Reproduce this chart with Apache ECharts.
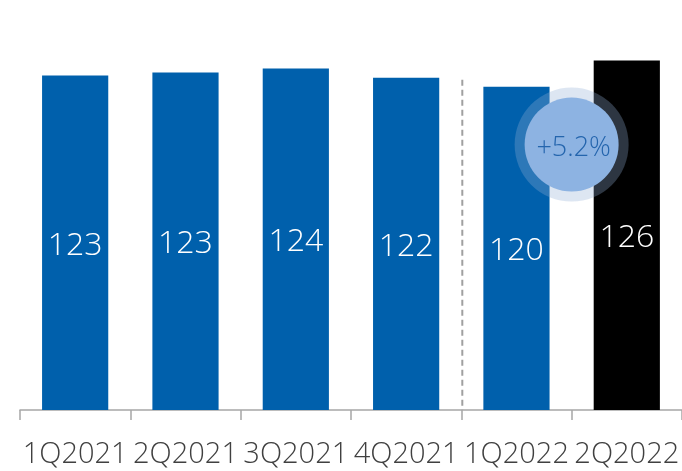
<!DOCTYPE html>
<html>
<head>
<meta charset="utf-8">
<script src="https://cdn.jsdelivr.net/npm/echarts@6/dist/echarts.min.js"></script>
<style>html,body{margin:0;padding:0;background:#fff;}#c{width:682px;height:471px;}</style>
</head>
<body>
<div id="c"></div>
<script>
const categories = ['1Q2021', '2Q2021', '3Q2021', '4Q2021', '1Q2022', '2Q2022'];
const values = [122.5, 123.2, 124.1, 122.0, 119.9, 126.0];
const valueLabels = ['123', '123', '124', '122', '120', '126'];
const barColors = ['#0060ac', '#0060ac', '#0060ac', '#0060ac', '#0060ac', '#000000'];
const changeLabel = '+5.2%';

const FONT = '"Open Sans"';
const chart = echarts.init(document.getElementById('c'), null, {renderer: 'canvas'});
chart.setOption({
  animation: false,
  backgroundColor: '#ffffff',
  grid: {left: 20, width: 665, top: 0, bottom: 61},
  xAxis: {
    type: 'category',
    data: categories,
    axisLine: {lineStyle: {color: '#a6a6a6', width: 1.5}},
    axisTick: {show: true, interval: 0, length: 10, lineStyle: {color: '#a6a6a6', width: 1.5}},
    axisLabel: {interval: 0, color: '#404040', fontSize: 29, fontFamily: FONT, fontWeight: 300, margin: 30}
  },
  yAxis: {type: 'value', min: 45, max: 140, show: false, splitLine: {show: false}},
  series: [{
    type: 'bar',
    barWidth: '60%',
    data: values.map((v, i) => ({value: v, itemStyle: {color: barColors[i]}})),
    label: {
      show: true,
      position: 'inside',
      offset: [0, 3],
      color: '#ffffff',
      fontSize: 32,
      fontFamily: FONT,
      fontWeight: 300,
      formatter: p => valueLabels[p.dataIndex]
    }
  }]
});

const px = (i, v) => chart.convertToPixel({xAxisIndex: 0, yAxisIndex: 0}, [i, v]);
const c3 = px(3, 121.5), c4 = px(4, 45), c5 = px(5, 106.5);
const divX = (c3[0] + c4[0]) / 2 + 1;
const circX = (c4[0] + c5[0]) / 2;
const circY = c5[1];
chart.setOption({
  graphic: [
    {
      type: 'line', z: 10,
      shape: {x1: divX, y1: c3[1], x2: divX, y2: c4[1]},
      style: {stroke: '#a0a0a0', lineWidth: 2, lineDash: [6, 4]}
    },
    {
      type: 'circle', z: 20,
      shape: {cx: circX, cy: circY, r: 57},
      style: {fill: 'rgba(146,173,212,0.31)'}
    },
    {
      type: 'circle', z: 21,
      shape: {cx: circX, cy: circY, r: 47},
      style: {fill: '#8db3e2'}
    },
    {
      type: 'text', z: 22,
      x: circX + 2, y: circY + 4,
      style: {text: changeLabel, fill: '#2465ad', font: '300 27px ' + FONT, align: 'center', verticalAlign: 'middle'}
    }
  ]
});
</script>
</body>
</html>
